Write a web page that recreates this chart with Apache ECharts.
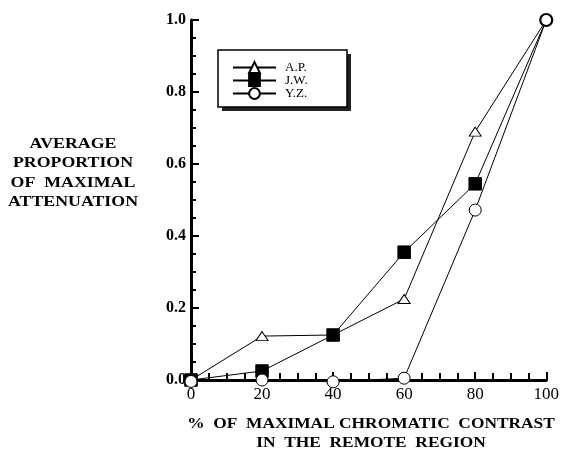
<!DOCTYPE html>
<html><head><meta charset="utf-8">
<script src="https://cdn.jsdelivr.net/npm/echarts@6/dist/echarts.min.js"></script>
<style>html,body{margin:0;padding:0;background:#fff}#c{width:562px;height:455px}</style>
</head><body><div id="c"></div>
<script>
var categories = [0, 20, 40, 60, 80, 100];
var apValues = [0.0, 0.122, 0.125, 0.225, 0.69, 1.0];
var jwValues = [0.0, 0.025, 0.125, 0.355, 0.545, 1.0];
var yzValues = [-0.004, 0.0, -0.005, 0.005, 0.472, 1.0];
var seriesNames = ['A.P.', 'J.W.', 'Y.Z.'];
var yTitleLines = ['AVERAGE', 'PROPORTION', 'OF  MAXIMAL', 'ATTENUATION'];
var xTitleLines = ['%  OF  MAXIMAL CHROMATIC  CONTRAST', 'IN  THE  REMOTE  REGION'];

var FONT = '"Liberation Serif", "Times New Roman", serif';
var chart = echarts.init(document.getElementById('c'), null, {renderer:'canvas'});
function pairs(vals, lastMode){
  return categories.map(function(c,i){
    var d = {value: [c, vals[i]]};
    if (i === categories.length - 1) {
      if (lastMode === 'hide') d.symbol = 'none';
      if (lastMode === 'bold') d.itemStyle = {borderWidth: 2.2};
    }
    return d;
  });
}
function mk(name, vals, symbol, size, fill, lastMode){
  return {
    name: name, type: 'line', data: pairs(vals, lastMode), symbol: symbol, symbolSize: size,
    clip: false, showAllSymbol: true,
    lineStyle: {color: '#000', width: 1},
    itemStyle: {color: fill, borderColor: '#000', borderWidth: 1},
    emphasis: {disabled: true}, animation: false
  };
}
chart.setOption({
  animation: false,
  grid: {left: 191, right: 10, top: 20, bottom: 75, containLabel: false},
  xAxis: {
    type: 'value', min: 0, max: 100, interval: 20,
    axisLine: {lineStyle: {color: '#000', width: 3}},
    axisTick: {inside: true, length: 8, lineStyle: {color: '#000', width: 2}},
    minorTick: {show: true, splitNumber: 4, length: 7, lineStyle: {color: '#000', width: 2}},
    splitLine: {show: false},
    axisLabel: {color: '#000', fontFamily: FONT, fontSize: 17, margin: 6}
  },
  yAxis: {
    type: 'value', min: 0, max: 1, interval: 0.2,
    axisLine: {lineStyle: {color: '#000', width: 3}},
    axisTick: {inside: true, length: 8, lineStyle: {color: '#000', width: 2}},
    minorTick: {show: true, splitNumber: 4, length: 5, lineStyle: {color: '#000', width: 2}},
    splitLine: {show: false},
    axisLabel: {color: '#000', fontFamily: FONT, fontSize: 16, fontWeight: 'bold', margin: 5,
      formatter: function(v){ return v.toFixed(1); }}
  },
  legend: {
    orient: 'vertical', left: 227, top: 56, itemWidth: 43, itemHeight: 13.5, itemGap: 0,
    data: seriesNames,
    textStyle: {color: '#000', fontFamily: FONT, fontSize: 13, padding: [0,0,0,4]},
    selectedMode: false
  },
  graphic: [
    {type: 'rect', z: -1, shape: {x: 222, y: 54, width: 129, height: 57}, style: {fill: '#222'}},
    {type: 'rect', z: 0, shape: {x: 218, y: 50, width: 129, height: 57}, style: {fill: '#fff', stroke: '#000', lineWidth: 1.5}},
    {type: 'text', z: 5, x: 73, y: 134, scaleX: 1.15,
      style: {text: yTitleLines.join('\n'), x: 0, y: 0, textAlign: 'center',
      font: 'bold 15.5px ' + FONT, lineHeight: 19.5, fill: '#000'}},
    {type: 'text', z: 5, x: 371, y: 414, scaleX: 1.12,
      style: {text: xTitleLines.join('\n'), x: 0, y: 0, textAlign: 'center',
      font: 'bold 15.5px ' + FONT, lineHeight: 19, fill: '#000'}}
  ],
  series: [
    mk('A.P.', apValues, 'triangle', [12, 9], '#fff', 'hide'),
    mk('J.W.', jwValues, 'rect', 12.5, '#000', 'hide'),
    mk('Y.Z.', yzValues, 'circle', 12, '#fff', 'bold')
  ]
});
</script></body></html>
